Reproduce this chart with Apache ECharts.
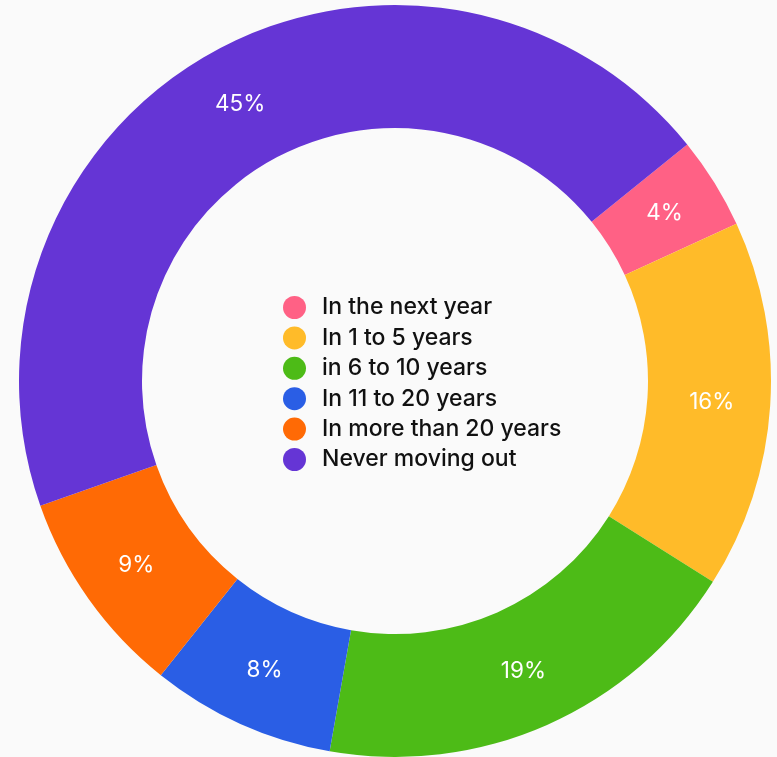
<!DOCTYPE html>
<html>
<head>
<meta charset="utf-8">
<script src="https://cdn.jsdelivr.net/npm/echarts@6/dist/echarts.min.js"></script>
<style>
  html, body { margin: 0; padding: 0; background: #fafafa; }
  #chart { width: 777px; height: 757px; }
</style>
</head>
<body>
<div id="chart"></div>
<script>
// When people expect to move out (share of respondents, %)
const categories = [
  'In the next year',
  'In 1 to 5 years',
  'in 6 to 10 years',
  'In 11 to 20 years',
  'In more than 20 years',
  'Never moving out'
];
const shares = [4, 16, 19, 8, 9, 45];
const colors = ['#FF6185', '#FFBB29', '#4DBB17', '#2A5EE5', '#FF6A05', '#6535D5'];

const chart = echarts.init(document.getElementById('chart'), null, { renderer: 'canvas' });

chart.setOption({
  backgroundColor: '#fafafa',
  color: colors,
  animation: false,
  legend: {
    orient: 'vertical',
    left: 283,
    top: 296,
    padding: 0,
    icon: 'circle',
    itemWidth: 23,
    itemHeight: 23,
    itemGap: 7.4,
    textStyle: {
      fontFamily: 'Inter',
      fontSize: 23,
      fontWeight: 500,
      lineHeight: 23,
      color: '#111111',
      padding: [0, 0, 0, 11]
    },
    data: categories
  },
  series: [{
    type: 'pie',
    center: [395, 381],
    radius: [253, 376],
    startAngle: 39,
    clockwise: true,
    avoidLabelOverlap: false,
    label: {
      show: true,
      position: 'inside',
      color: '#ffffff',
      fontFamily: 'Inter',
      fontWeight: 400,
      fontSize: 22.5,
      formatter: p => p.value + '%'
    },
    labelLine: { show: false },
    itemStyle: { borderWidth: 0 },
    emphasis: { disabled: true },
    data: categories.map((name, i) => ({ name, value: shares[i] }))
  }]
});
</script>
</body>
</html>
